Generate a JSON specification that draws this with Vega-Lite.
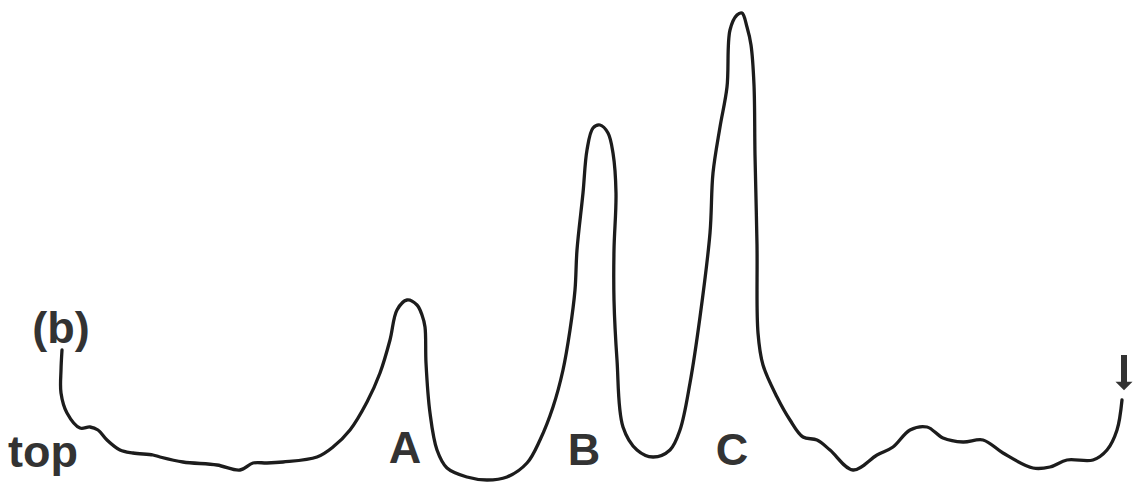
{
  "$schema": "https://vega.github.io/schema/vega-lite/v6.json",
  "width": 1147,
  "height": 485,
  "autosize": {"type": "fit", "contains": "padding"},
  "padding": 0,
  "background": "white",
  "config": {"view": {"stroke": null}},
  "datasets": {
    "trace": [
      {"i":1,"x":62,"y":135},{"i":2,"x":61,"y":115},{"i":3,"x":61,"y":92},{"i":4,"x":67,"y":72},
      {"i":5,"x":80,"y":57},{"i":6,"x":90,"y":58},{"i":7,"x":98,"y":55},{"i":8,"x":107,"y":45},
      {"i":9,"x":120,"y":35},{"i":10,"x":133,"y":32},{"i":11,"x":153,"y":30},{"i":12,"x":160,"y":28},
      {"i":13,"x":183,"y":23},{"i":14,"x":217,"y":20},{"i":15,"x":240,"y":15},{"i":16,"x":253,"y":22},
      {"i":17,"x":267,"y":22},{"i":18,"x":283,"y":23},{"i":19,"x":317,"y":28},{"i":20,"x":333,"y":38},
      {"i":21,"x":350,"y":55},{"i":22,"x":367,"y":83},{"i":23,"x":380,"y":112},{"i":24,"x":390,"y":145},
      {"i":25,"x":397,"y":175},{"i":26,"x":407,"y":185},{"i":27,"x":417,"y":180},{"i":28,"x":422,"y":170},
      {"i":29,"x":425,"y":158},{"i":30,"x":426,"y":122},{"i":31,"x":430,"y":72},{"i":32,"x":437,"y":35},
      {"i":33,"x":447,"y":17},{"i":34,"x":467,"y":8},{"i":35,"x":487,"y":5},{"i":36,"x":507,"y":8},
      {"i":37,"x":527,"y":22},{"i":38,"x":540,"y":45},{"i":39,"x":553,"y":78},{"i":40,"x":563,"y":115},
      {"i":41,"x":570,"y":155},{"i":42,"x":575,"y":195},{"i":43,"x":577,"y":235},{"i":44,"x":583,"y":292},
      {"i":45,"x":587,"y":335},{"i":46,"x":593,"y":357},{"i":47,"x":600,"y":360},{"i":48,"x":608,"y":352},
      {"i":49,"x":613,"y":332},{"i":50,"x":616,"y":292},{"i":51,"x":614,"y":235},{"i":52,"x":614,"y":185},
      {"i":53,"x":617,"y":125},{"i":54,"x":623,"y":58},{"i":55,"x":637,"y":35},{"i":56,"x":653,"y":28},
      {"i":57,"x":670,"y":35},{"i":58,"x":680,"y":55},{"i":59,"x":690,"y":102},{"i":60,"x":700,"y":168},
      {"i":61,"x":710,"y":252},{"i":62,"x":713,"y":312},{"i":63,"x":720,"y":358},{"i":64,"x":727,"y":398},
      {"i":65,"x":730,"y":455},{"i":66,"x":737,"y":470},{"i":67,"x":742,"y":472},{"i":68,"x":747,"y":458},
      {"i":69,"x":751,"y":440},{"i":70,"x":754,"y":400},{"i":71,"x":755,"y":330},{"i":72,"x":757,"y":240},
      {"i":73,"x":758,"y":152},{"i":74,"x":763,"y":120},{"i":75,"x":777,"y":88},{"i":76,"x":790,"y":65},
      {"i":77,"x":803,"y":48},{"i":78,"x":817,"y":45},{"i":79,"x":830,"y":35},{"i":80,"x":853,"y":15},
      {"i":81,"x":877,"y":30},{"i":82,"x":893,"y":38},{"i":83,"x":910,"y":55},{"i":84,"x":927,"y":58},
      {"i":85,"x":943,"y":47},{"i":86,"x":963,"y":43},{"i":87,"x":983,"y":45},{"i":88,"x":1003,"y":32},
      {"i":89,"x":1033,"y":17},{"i":90,"x":1050,"y":18},{"i":91,"x":1067,"y":25},{"i":92,"x":1093,"y":25},
      {"i":93,"x":1107,"y":35},{"i":94,"x":1117,"y":55},{"i":95,"x":1122,"y":85}
    ],
    "labels": [
      {"label":"top","x":43,"y":18},
      {"label":"(b)","x":61,"y":142},
      {"label":"A","x":405,"y":22},
      {"label":"B","x":584,"y":20},
      {"label":"C","x":732,"y":20}
    ],
    "marker": [
      {"x":1124,"top":130,"bottom":102,"tip":99}
    ]
  },
  "layer": [
    {
      "data": {"name": "trace"},
      "mark": {"type": "line", "interpolate": "catmull-rom", "stroke": "#1c1c1c", "strokeWidth": 3.3, "strokeJoin": "round", "strokeCap": "round"},
      "encoding": {
        "x": {"field": "x", "type": "quantitative", "scale": {"domain": [0, 1147], "nice": false, "zero": false}, "axis": null},
        "y": {"field": "y", "type": "quantitative", "scale": {"domain": [0, 485], "nice": false, "zero": false}, "axis": null},
        "order": {"field": "i", "type": "quantitative"}
      }
    },
    {
      "data": {"name": "labels"},
      "mark": {"type": "text", "font": "Liberation Sans", "fontWeight": "bold", "fontSize": 45, "fill": "#333333", "align": "center", "baseline": "alphabetic"},
      "encoding": {
        "x": {"field": "x", "type": "quantitative"},
        "y": {"field": "y", "type": "quantitative"},
        "text": {"field": "label"}
      }
    },
    {
      "data": {"name": "marker"},
      "mark": {"type": "rule", "stroke": "#333333", "strokeWidth": 6},
      "encoding": {
        "x": {"field": "x", "type": "quantitative"},
        "y": {"field": "top", "type": "quantitative"},
        "y2": {"field": "bottom"}
      }
    },
    {
      "data": {"name": "marker"},
      "mark": {"type": "point", "shape": "M-1,-0.5L1,-0.5L0,0.5Z", "size": 289, "filled": true, "fill": "#333333", "opacity": 1, "strokeWidth": 0},
      "encoding": {
        "x": {"field": "x", "type": "quantitative"},
        "y": {"field": "tip", "type": "quantitative"}
      }
    }
  ]
}
